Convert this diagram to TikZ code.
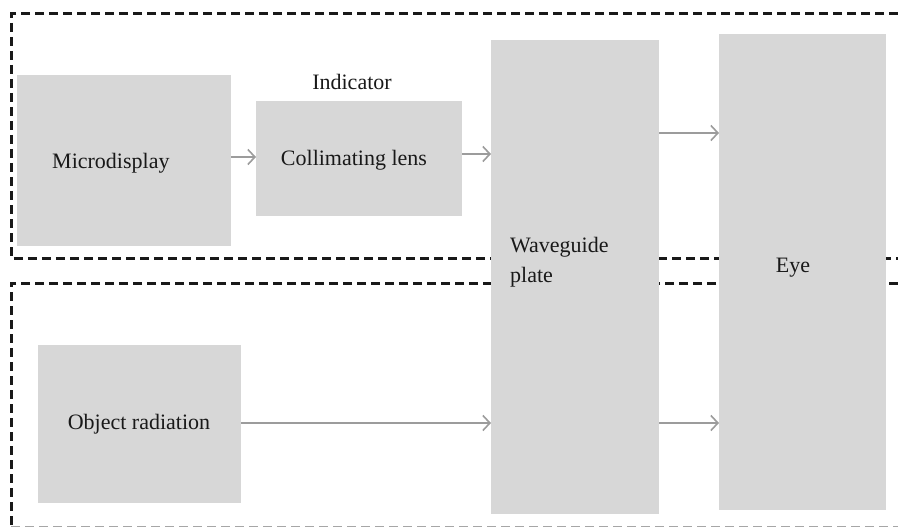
\documentclass[tikz,border=0pt]{standalone}
\usepackage{fontspec}
\setmainfont{Liberation Serif}
\usetikzlibrary{arrows.meta}
\definecolor{boxgray}{HTML}{D7D7D7}
\definecolor{arrgray}{HTML}{9C9C9C}
\begin{document}
\begin{tikzpicture}[x=1pt,y=-1pt,
  blk/.style={fill=boxgray,draw=none,inner sep=0pt,anchor=north west},
  lbl/.style={font=\fontsize{22}{30}\selectfont,inner sep=0pt,text=black!90},
  frame/.style={line width=3pt,dash pattern=on 9pt off 5pt,draw=black!90},
  arr/.style={draw=arrgray,line width=1.8pt,-{Straight Barb[length=7pt,width=15pt,line width=1.6pt]}}]
\useasboundingbox (0,0) rectangle (898,527);
% dashed frames
\draw[frame] (898,14) -- (11,14) -- (11,258) -- (898,258);
\draw[frame] (898,283) -- (11,283) -- (11,527);
\draw[line width=1.5pt,dash pattern=on 9pt off 5pt,draw=black!35] (11,526.5) -- (898,526.5);
% boxes
\node[blk,minimum width=214pt,minimum height=171pt] (md) at (17,75) {};
\node[blk,minimum width=206pt,minimum height=115pt] (cl) at (256,101) {};
\node[blk,minimum width=168pt,minimum height=474pt] (wg) at (491,40) {};
\node[blk,minimum width=167pt,minimum height=476pt] (eye) at (719,34) {};
\node[blk,minimum width=203pt,minimum height=158pt] (obj) at (38,345) {};
% texts
\node[lbl,anchor=west] (mdt) at (52,163) {Microdisplay};
\node[lbl] (clt) at (354,160) {Collimating lens};
\node[lbl] (ind) at (352,82) {Indicator};
\node[lbl,anchor=west,align=left] (wgt) at (510,262) {Waveguide\\plate};
\node[lbl] (eyet) at (793,268) {Eye};
\node[lbl] (objt) at (139,424) {Object radiation};
% connectors
\coordinate (ya) at (0,157);
\coordinate (yb) at (0,154);
\coordinate (yc) at (0,133);
\coordinate (yd) at (0,423);
\draw[arr] (md.east |- ya) -- (cl.west |- ya);
\draw[arr] (cl.east |- yb) -- (wg.west |- yb);
\draw[arr] (wg.east |- yc) -- (eye.west |- yc);
\draw[arr] (obj.east |- yd) -- (wg.west |- yd);
\draw[arr] (wg.east |- yd) -- (eye.west |- yd);
\end{tikzpicture}
\end{document}
